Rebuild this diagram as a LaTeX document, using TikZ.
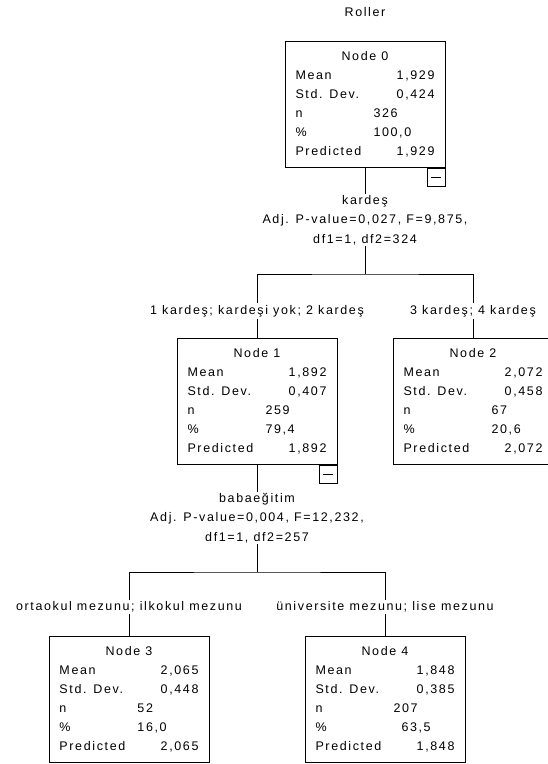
\documentclass[tikz,border=0pt]{standalone}
\usepackage{fontspec}
\setmainfont{Liberation Sans}[LetterSpace=13]
\usetikzlibrary{positioning, calc}

\newcommand{\statrow}[2]{\makebox[78pt][l]{#1}\makebox[61pt][r]{#2}}
\newcommand{\countrow}[3][0pt]{\makebox[78pt][l]{#2}\makebox[61pt][l]{\hspace{#1}#3}}

\begin{document}
\begin{tikzpicture}[
x=1pt, y=-1pt,
font=\fontsize{12.5}{19}\selectfont,
line width=1pt,
treenode/.style={
rectangle,
draw=black,
fill=white,
align=center,
minimum width=160pt,
minimum height=126pt,
inner sep=0pt
},
splitlabel/.style={
align=center,
inner sep=1pt,
font=\fontsize{12.5}{19.5}\selectfont
},
branchlabel/.style={
fill=white,
inner sep=2pt
},
collapsebox/.style={
rectangle,
draw=black,
minimum size=18pt,
inner sep=0pt,
anchor=north east,
path picture={\draw ([xshift=4pt]path picture bounding box.west) -- ([xshift=-4pt]path picture bounding box.east);}
}
]
\useasboundingbox (0,0) rectangle (547,764);

\node (title) at (365,12) {Roller};

\node[treenode] (node0) at (365,104.5)
{Node 0\\ \statrow{Mean}{1,929}\\ \statrow{Std. Dev.}{0,424}\\ \countrow{n}{326}\\ \countrow{\%}{100,0}\\ \statrow{Predicted}{1,929}};
\node[collapsebox] (node0minus) at (node0.south east) {};

\node[splitlabel] (split0) at (365,220)
{kardeş\\Adj. P-value=0,027, F=9,875,\\df1=1, df2=324};
\coordinate (bar0) at (365,274);

\node[treenode] (node1) at (257,401.5)
{Node 1\\ \statrow{Mean}{1,892}\\ \statrow{Std. Dev.}{0,407}\\ \countrow{n}{259}\\ \countrow{\%}{79,4}\\ \statrow{Predicted}{1,892}};
\node[collapsebox] (node1minus) at (node1.south east) {};

\node[treenode] (node2) at (473,401.5)
{Node 2\\ \statrow{Mean}{2,072}\\ \statrow{Std. Dev.}{0,458}\\ \countrow[10pt]{n}{67}\\ \countrow[10pt]{\%}{20,6}\\ \statrow{Predicted}{2,072}};

\node[splitlabel] (split1) at (257,518)
{babaeğitim\\Adj. P-value=0,004, F=12,232,\\df1=1, df2=257};
\coordinate (bar1) at (257,572);

\node[treenode] (node3) at (129,699)
{Node 3\\ \statrow{Mean}{2,065}\\ \statrow{Std. Dev.}{0,448}\\ \countrow{n}{52}\\ \countrow{\%}{16,0}\\ \statrow{Predicted}{2,065}};

\node[treenode] (node4) at (385,699)
{Node 4\\ \statrow{Mean}{1,848}\\ \statrow{Std. Dev.}{0,385}\\ \countrow{n}{207}\\ \countrow[8pt]{\%}{63,5}\\ \statrow{Predicted}{1,848}};

% tree connectors
\draw (node0.south) -- (split0.north);
\draw (split0.south) -- (bar0);
\draw (node1.north) |- (bar0) -| (node2.north);
\draw (node1.south) -- (split1.north);
\draw (split1.south) -- (bar1);
\draw (node3.north) |- (bar1) -| (node4.north);

% category labels sit on the connectors
\node[branchlabel] (cat1) at (257,311) {1 kardeş; kardeşi yok; 2 kardeş};
\node[branchlabel] (cat2) at (473,311) {3 kardeş; 4 kardeş};
\node[branchlabel] (cat3) at (129,607) {ortaokul mezunu; ilkokul mezunu};
\node[branchlabel] (cat4) at (385,607) {üniversite mezunu; lise mezunu};

\end{tikzpicture}
\end{document}
